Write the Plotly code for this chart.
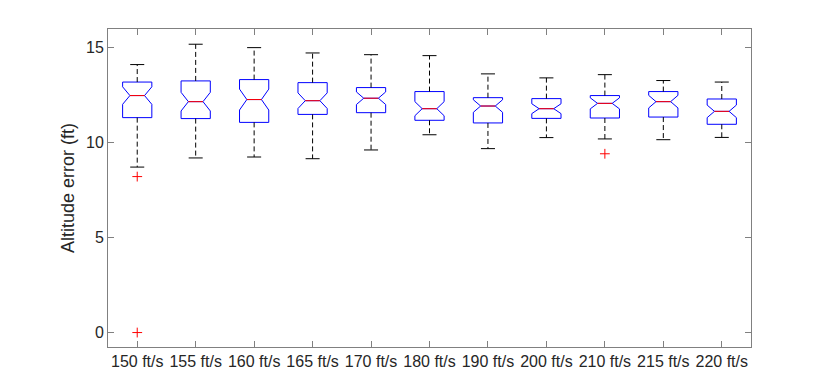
import plotly.graph_objects as go

# speeds tested
labels = ['150 ft/s', '155 ft/s', '160 ft/s', '165 ft/s', '170 ft/s', '180 ft/s',
          '190 ft/s', '200 ft/s', '210 ft/s', '215 ft/s', '220 ft/s']
pos = list(range(1, len(labels) + 1))

# box stats (ft)
upper = [14.09, 15.16, 14.98, 14.70, 14.61, 14.56, 13.60, 13.39, 13.56, 13.25, 13.17]
q3 = [13.17, 13.23, 13.30, 13.14, 12.88, 12.67, 12.35, 12.30, 12.46, 12.67, 12.28]
med = [12.46, 12.14, 12.25, 12.19, 12.32, 11.77, 11.91, 11.77, 12.05, 12.14, 11.63]
q1 = [11.30, 11.25, 11.05, 11.47, 11.56, 11.16, 11.02, 11.26, 11.28, 11.33, 10.95]
lower = [8.70, 9.18, 9.23, 9.14, 9.60, 10.40, 9.67, 10.25, 10.18, 10.14, 10.26]
notch = [0.46, 0.49, 0.55, 0.41, 0.33, 0.37, 0.33, 0.26, 0.29, 0.33, 0.33]

out_x = [1, 1, 9]
out_y = [8.2, 0.0, 9.4]

fig = go.Figure()

# whiskers (dashed black)
wx, wy = [], []
for p, a, b, c, d in zip(pos, q3, upper, q1, lower):
    wx += [p, p, None, p, p, None]
    wy += [a, b, None, c, d, None]
fig.add_trace(go.Scatter(x=wx, y=wy, mode='lines', line=dict(color='black', width=1, dash='5px,3px'),
                         hoverinfo='skip', showlegend=False))

# whisker caps
cx, cy = [], []
for p, b, d in zip(pos, upper, lower):
    cx += [p - 0.12, p + 0.12, None, p - 0.12, p + 0.12, None]
    cy += [b, b, None, d, d, None]
fig.add_trace(go.Scatter(x=cx, y=cy, mode='lines', line=dict(color='black', width=1),
                         hoverinfo='skip', showlegend=False))

# notched boxes
fig.add_trace(go.Box(x=pos, q1=q1, median=med, q3=q3, lowerfence=q1, upperfence=q3,
                     notched=True, notchspan=notch, notchwidth=0.25, width=0.5,
                     line=dict(color='#0000ff', width=1), fillcolor='rgba(0,0,0,0)',
                     boxpoints=False, whiskerwidth=0, showlegend=False))

# medians (red)
mx, my = [], []
for p, m in zip(pos, med):
    mx += [p - 0.125, p + 0.125, None]
    my += [m, m, None]
fig.add_trace(go.Scatter(x=mx, y=my, mode='lines', line=dict(color='#ff0000', width=1),
                         hoverinfo='skip', showlegend=False))

# outliers
fig.add_trace(go.Scatter(x=out_x, y=out_y, mode='markers',
                         marker=dict(symbol='cross-thin-open', size=7, color='#ff0000',
                                     line=dict(color='#ff0000', width=1)),
                         showlegend=False))

axis_style = dict(showline=True, linecolor='#808080', linewidth=1, mirror='ticks', ticks='inside',
                  ticklen=6, tickcolor='#808080', showgrid=False, zeroline=False,
                  tickfont=dict(family='Liberation Sans', size=16, color='#262626'))

fig.update_xaxes(range=[0.5, 11.5], tickvals=pos, ticktext=labels, **axis_style)
fig.update_yaxes(range=[-0.76, 15.96], tickvals=[0, 5, 10, 15],
                 title=dict(text='Altitude error (ft)', font=dict(family='Liberation Sans', size=18, color='#262626'),
                            standoff=6),
                 **axis_style)

# page body has an 8px margin, so the figure is shrunk to fit the window
fig.update_layout(width=822, height=382, plot_bgcolor='white', paper_bgcolor='white',
                  margin=dict(l=100, r=79, t=21, b=43))

fig.write_html("out.html")
